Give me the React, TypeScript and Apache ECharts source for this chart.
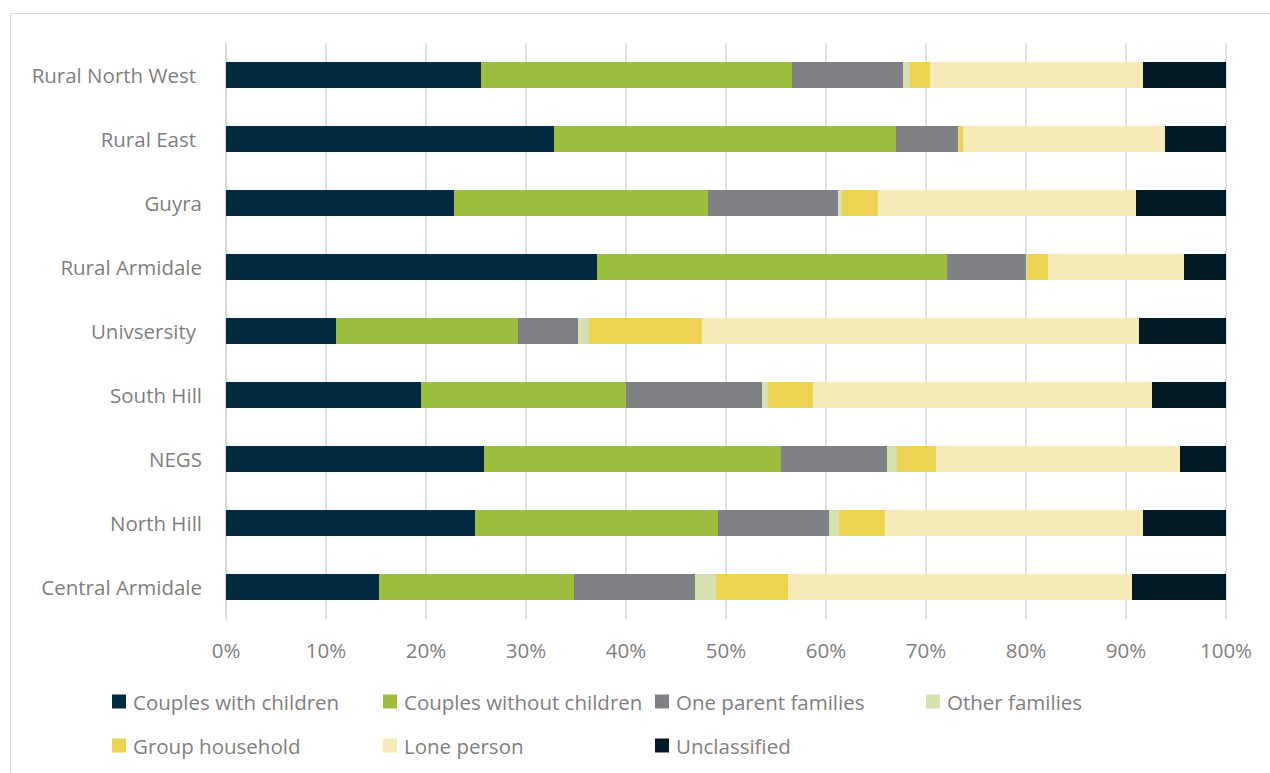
import React, { useEffect, useRef } from "react";
import * as echarts from "echarts";

const categories = [
  "Central Armidale",
  "North Hill",
  "NEGS",
  "South Hill",
  "Univsersity ",
  "Rural Armidale",
  "Guyra",
  "Rural East ",
  "Rural North West ",
];

const seriesNames = [
  "Couples with children",
  "Couples without children",
  "One parent families",
  "Other families",
  "Group household",
  "Lone person",
  "Unclassified",
];

// values in %, ordered as categories (bottom to top)
const couplesWithChildren = [15.3, 24.9, 25.8, 19.5, 11.0, 37.1, 22.8, 32.8, 25.5];
const couplesWithoutChildren = [19.5, 24.3, 29.7, 20.5, 18.2, 35.0, 25.4, 34.2, 31.1];
const oneParentFamilies = [12.1, 11.1, 10.6, 13.6, 6.0, 7.9, 13.0, 6.2, 11.1];
const otherFamilies = [2.1, 1.0, 1.0, 0.6, 1.1, 0.1, 0.4, 0.1, 0.7];
const groupHousehold = [7.2, 4.6, 3.9, 4.5, 11.3, 2.1, 3.6, 0.4, 2.0];
const lonePerson = [34.4, 25.8, 24.4, 33.9, 43.7, 13.6, 25.8, 20.2, 21.3];
const unclassified = [9.4, 8.3, 4.6, 7.4, 8.7, 4.2, 9.0, 6.1, 8.3];

const xTicks = ["0%", "10%", "20%", "30%", "40%", "50%", "60%", "70%", "80%", "90%", "100%"];

const colors = ["#022a41", "#9dbe3c", "#808184", "#d5e2b0", "#ecd452", "#f6ebb8", "#011a26"];

const allValues = [
  couplesWithChildren,
  couplesWithoutChildren,
  oneParentFamilies,
  otherFamilies,
  groupHousehold,
  lonePerson,
  unclassified,
];

const legendPos = [
  [112, 691],
  [383, 691],
  [655, 691],
  [926, 691],
  [112, 735],
  [383, 735],
  [655, 735],
];

export default function App() {
  const ref = useRef<HTMLDivElement>(null);
  useEffect(() => {
    if (!ref.current) return;
    const chart = echarts.init(ref.current, undefined, { renderer: "svg" });
    const font = "'Open Sans', sans-serif";
    const textColor = "#7f7f7f";
    const fs = 20.5;
    chart.setOption({
      animation: false,
      backgroundColor: "#ffffff",
      textStyle: { fontFamily: font },
      graphic: [
        {
          type: "rect",
          shape: { x: 10.5, y: 13.5, width: 1300, height: 800 },
          style: { fill: "none", stroke: "#d9d9d9", lineWidth: 1 },
        },
      ],
      grid: { left: 226, right: 44, top: 43, bottom: 154, containLabel: false },
      xAxis: {
        type: "value",
        min: 0,
        max: 100,
        interval: 10,
        axisLine: { show: false },
        axisTick: { show: false },
        splitLine: { show: true, lineStyle: { color: "#d9d9d9", width: 1.5 } },
        axisLabel: {
          color: textColor,
          fontSize: fs,
          fontFamily: font,
          margin: 20,
          formatter: (v: number) => xTicks[Math.round(v / 10)],
        },
      },
      yAxis: {
        type: "category",
        data: categories,
        axisLine: { show: true, lineStyle: { color: "#d9d9d9", width: 1.5 } },
        axisTick: { show: false },
        axisLabel: {
          color: textColor,
          fontSize: fs,
          fontFamily: font,
          margin: 24,
          formatter: (v: string) =>
            v.endsWith(" ") ? `{sp|${v.trim()}}` : `{n|${v}}`,
          rich: {
            sp: { color: textColor, fontSize: fs, fontFamily: font, padding: [0, 6, 0, 0] },
            n: { color: textColor, fontSize: fs, fontFamily: font },
          },
        },
      },
      legend: seriesNames.map((name, i) => ({
        data: [name],
        left: legendPos[i][0],
        top: legendPos[i][1],
        icon: "rect",
        itemWidth: 14,
        itemHeight: 14,
        padding: 0,
        textStyle: { color: textColor, fontSize: fs, fontFamily: font, padding: [0, 0, 0, 2] },
      })),
      series: seriesNames.map((name, i) => ({
        name,
        type: "bar",
        stack: "total",
        barWidth: 26,
        data: allValues[i],
        itemStyle: { color: colors[i] },
      })),
    });
    return () => chart.dispose();
  }, []);
  return (
    <div
      ref={ref}
      style={{ position: "fixed", left: 0, top: 0, width: 1270, height: 773, background: "#fff" }}
    />
  );
}
